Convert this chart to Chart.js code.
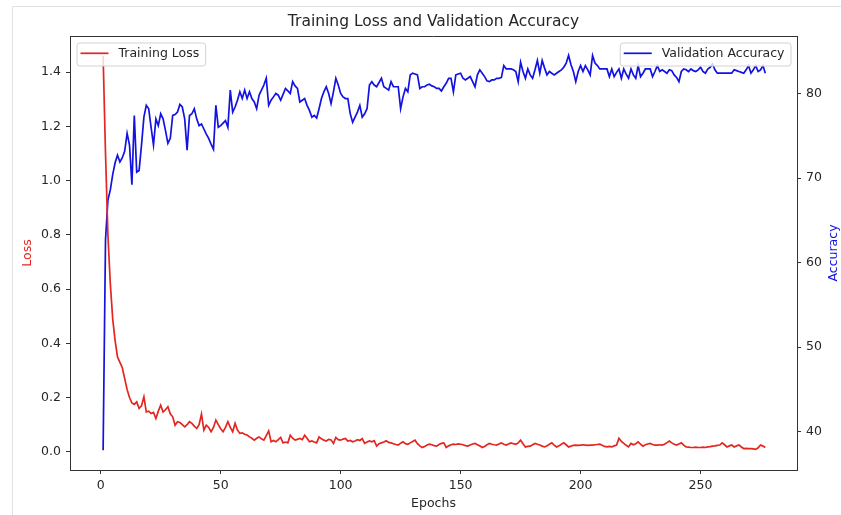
<!DOCTYPE html>
<html>
<head>
<meta charset="utf-8">
<script src="https://cdn.jsdelivr.net/npm/chart.js@4"></script>
<style>
  html, body { margin: 0; padding: 0; background: #fff; }
  #frame { position: absolute; left: 12px; top: 6px; right: 0; bottom: 0;
           border-left: 1px solid #e2e2e2; border-top: 1px solid #e2e2e2; }
  #wrap { position: absolute; left: 0; top: 0; width: 841px; height: 515px; }
</style>
</head>
<body>
<div id="frame"></div>
<div id="wrap"><canvas id="chart"></canvas></div>
<script>
// values, epoch 1..277
var loss = [
  1.46, 1.10, 0.80, 0.62, 0.49, 0.41, 0.35, 0.33, 0.31, 0.27,
  0.23, 0.20, 0.18, 0.175, 0.184, 0.16, 0.17, 0.203, 0.147, 0.15,
  0.141, 0.145, 0.123, 0.15, 0.172, 0.147, 0.155, 0.166, 0.14, 0.129,
  0.098, 0.111, 0.108, 0.10, 0.092, 0.10, 0.111, 0.105, 0.095, 0.086,
  0.10, 0.139, 0.080, 0.098, 0.09, 0.074, 0.09, 0.117, 0.10, 0.085,
  0.074, 0.09, 0.111, 0.09, 0.074, 0.105, 0.08, 0.068, 0.07, 0.065,
  0.062, 0.055, 0.05, 0.043, 0.05, 0.055, 0.048, 0.043, 0.06, 0.077,
  0.037, 0.042, 0.037, 0.045, 0.053, 0.033, 0.036, 0.033, 0.061, 0.05,
  0.043, 0.046, 0.049, 0.045, 0.061, 0.05, 0.037, 0.04, 0.036, 0.033,
  0.055, 0.048, 0.043, 0.04, 0.046, 0.044, 0.031, 0.053, 0.045, 0.043,
  0.047, 0.049, 0.04, 0.042, 0.037, 0.04, 0.045, 0.042, 0.049, 0.031,
  0.036, 0.04, 0.037, 0.041, 0.021, 0.03, 0.033, 0.036, 0.041, 0.035,
  0.033, 0.03, 0.027, 0.025, 0.032, 0.037, 0.03, 0.028, 0.033, 0.038,
  0.043, 0.03, 0.022, 0.016, 0.02, 0.025, 0.028, 0.026, 0.023, 0.021,
  0.027, 0.031, 0.033, 0.016, 0.022, 0.026, 0.028, 0.027, 0.029, 0.028,
  0.026, 0.023, 0.021, 0.025, 0.029, 0.031, 0.026, 0.022, 0.016, 0.02,
  0.026, 0.031, 0.028, 0.026, 0.025, 0.029, 0.033, 0.028, 0.025, 0.029,
  0.033, 0.03, 0.028, 0.033, 0.043, 0.03, 0.018, 0.02, 0.021, 0.026,
  0.031, 0.028, 0.025, 0.021, 0.018, 0.022, 0.028, 0.033, 0.025, 0.018,
  0.022, 0.028, 0.033, 0.026, 0.018, 0.021, 0.024, 0.025, 0.024, 0.025,
  0.026, 0.025, 0.024, 0.025, 0.025, 0.026, 0.027, 0.028, 0.024, 0.02,
  0.018, 0.02, 0.018, 0.022, 0.025, 0.05, 0.038, 0.031, 0.024, 0.018,
  0.031, 0.026, 0.03, 0.037, 0.028, 0.021, 0.026, 0.029, 0.031, 0.027,
  0.025, 0.025, 0.026, 0.025, 0.028, 0.034, 0.040, 0.033, 0.028, 0.025,
  0.029, 0.033, 0.025, 0.018, 0.017, 0.016, 0.016, 0.017, 0.016, 0.016,
  0.017, 0.016, 0.018, 0.019, 0.021, 0.022, 0.024, 0.025, 0.033, 0.026,
  0.018, 0.022, 0.025, 0.018, 0.022, 0.025, 0.018, 0.012, 0.013, 0.012,
  0.012, 0.011, 0.009, 0.015, 0.025, 0.021, 0.016
];
var accuracy = [
  37.8, 62.7, 67.4, 68.6, 70.4, 71.8, 72.7, 71.9, 72.4, 73.2,
  75.3, 73.9, 69.2, 77.4, 70.7, 70.9, 73.9, 77.2, 78.6, 78.2,
  76.0, 73.9, 77.0, 76.2, 77.6, 77.0, 75.6, 74.1, 74.7, 77.4,
  77.5, 77.8, 78.7, 78.4, 77.0, 73.3, 77.4, 77.6, 78.2, 77.0,
  76.2, 76.4, 75.8, 75.2, 74.7, 74.0, 73.4, 78.6, 76.0, 76.2,
  76.5, 76.8, 76.0, 80.4, 77.8, 78.4, 79.2, 80.2, 79.4, 80.4,
  79.4, 80.2, 79.4, 79.0, 78.2, 79.8, 80.4, 81.0, 81.8, 78.6,
  79.2, 79.6, 80.0, 79.8, 79.2, 79.9, 80.6, 80.3, 80.0, 81.4,
  80.9, 80.6, 79.0, 79.2, 79.4, 78.6, 78.0, 77.2, 77.4, 77.1,
  78.2, 79.4, 80.2, 80.8, 80.0, 78.8, 80.2, 81.8, 81.0, 80.0,
  79.6, 79.4, 79.4, 77.6, 76.6, 77.2, 77.8, 78.6, 77.2, 77.6,
  78.2, 81.0, 81.4, 81.0, 80.8, 81.3, 81.8, 80.8, 80.6, 80.4,
  81.4, 80.8, 80.8, 80.8, 78.2, 79.6, 80.6, 80.2, 82.2, 82.4,
  82.3, 82.2, 80.6, 80.8, 80.8, 81.0, 81.1, 80.9, 80.8, 80.6,
  80.6, 80.3, 80.8, 81.2, 81.8, 81.8, 80.2, 82.2, 82.3, 82.4,
  81.8, 81.6, 81.8, 82.0, 81.4, 80.8, 82.2, 82.8, 82.4, 82.0,
  81.5, 81.4, 81.6, 81.6, 81.8, 81.8, 81.9, 83.3, 82.9, 82.9,
  82.9, 82.8, 82.6, 81.4, 83.7, 82.6, 81.8, 82.9, 82.2, 81.8,
  82.8, 83.9, 82.4, 83.9, 83.0, 82.2, 82.6, 82.4, 82.2, 82.4,
  82.6, 82.8, 83.1, 83.6, 84.5, 83.4, 82.6, 81.4, 82.6, 83.3,
  82.6, 83.3, 82.8, 82.2, 84.5, 83.6, 83.3, 82.9, 82.9, 82.9,
  82.9, 82.0, 82.9, 82.0, 82.5, 82.9, 81.8, 82.9, 82.3, 81.8,
  82.9, 82.2, 81.8, 83.3, 82.0, 82.4, 82.9, 82.9, 82.9, 82.0,
  82.6, 83.3, 82.6, 82.8, 82.6, 82.4, 82.8, 82.7, 82.2, 81.9,
  81.4, 82.6, 82.9, 82.8, 82.6, 82.9, 82.7, 82.6, 82.8, 83.1,
  82.6, 82.4, 82.9, 83.1, 83.5, 82.8, 82.4, 82.4, 82.4, 82.4,
  82.4, 82.4, 82.4, 82.8, 82.7, 82.6, 82.5, 82.4, 82.8, 83.3,
  82.4, 82.8, 83.3, 82.6, 82.8, 83.3, 82.4
];
var epochs = loss.map(function (v, i) { return i + 1; });
var xTicks = [0, 50, 100, 150, 200, 250];
var lossTicks = [0, 0.2, 0.4, 0.6, 0.8, 1.0, 1.2, 1.4];
var accTicks = [40, 50, 60, 70, 80];

var chartTitle = 'Training Loss and Validation Accuracy';
var lossColor = 'rgb(228,38,32)';
var accColor = 'rgb(18,18,225)';
var textColor = '#262626';
var font = '"DejaVu Sans", sans-serif';
var fontSize = 12.5;

function fixTicks(list) {
  return function (scale) {
    scale.ticks = list.map(function (v) { return { value: v }; });
  };
}

function legendBox(ctx, x, y, label, color, alignRight) {
  ctx.font = fontSize + 'px ' + font;
  var w = 4 + 28 + 10 + ctx.measureText(label).width + 6;
  var h = 23;
  if (alignRight) x = x - w;
  ctx.beginPath();
  ctx.roundRect(x + 0.5, y + 0.5, w, h, 3);
  ctx.fillStyle = 'rgba(255,255,255,0.8)';
  ctx.fill();
  ctx.strokeStyle = '#d2d2d2';
  ctx.lineWidth = 1;
  ctx.stroke();
  ctx.beginPath();
  ctx.moveTo(x + 4, y + 10.8);
  ctx.lineTo(x + 32, y + 10.8);
  ctx.strokeStyle = color;
  ctx.lineWidth = 1.7;
  ctx.stroke();
  ctx.fillStyle = textColor;
  ctx.textAlign = 'left';
  ctx.textBaseline = 'middle';
  ctx.fillText(label, x + 42, y + 11);
}

var decor = {
  id: 'decor',
  afterDatasetsDraw: function (chart) {
    var ctx = chart.ctx, a = chart.chartArea;
    ctx.save();
    ctx.strokeStyle = '#333';
    ctx.lineWidth = 1;
    ctx.beginPath();
    ctx.moveTo(a.left, a.top + 0.5);
    ctx.lineTo(a.right, a.top + 0.5);
    ctx.stroke();
    ctx.fillStyle = textColor;
    ctx.font = '15.5px ' + font;
    ctx.textAlign = 'center';
    ctx.textBaseline = 'middle';
    ctx.fillText(chartTitle, (a.left + a.right) / 2, 22);
    // right axis title reads bottom to top
    ctx.save();
    ctx.translate(834, (a.top + a.bottom) / 2);
    ctx.rotate(-Math.PI / 2);
    ctx.fillStyle = accColor;
    ctx.font = fontSize + 'px ' + font;
    ctx.fillText('Accuracy', 0, 0);
    ctx.restore();
    legendBox(ctx, a.left + 6.5, a.top + 6.5, 'Training Loss', lossColor, false);
    legendBox(ctx, a.right - 6.5, a.top + 6.5, 'Validation Accuracy', accColor, true);
    ctx.restore();
  }
};

new Chart(document.getElementById('chart'), {
  type: 'line',
  data: {
    datasets: [
      {
        label: 'Training Loss',
        data: epochs.map(function (e, i) { return { x: e, y: loss[i] }; }),
        borderColor: lossColor,
        borderWidth: 1.7,
        pointRadius: 0,
        tension: 0,
        yAxisID: 'y'
      },
      {
        label: 'Validation Accuracy',
        data: epochs.map(function (e, i) { return { x: e, y: accuracy[i] }; }),
        borderColor: accColor,
        borderWidth: 1.7,
        pointRadius: 0,
        tension: 0,
        yAxisID: 'y1'
      }
    ]
  },
  options: {
    responsive: true,
    maintainAspectRatio: false,
    animation: false,
    layout: { padding: { top: 36, left: 0, right: 0, bottom: 0 } },
    plugins: {
      legend: { display: false },
      title: { display: false },
      tooltip: { enabled: false }
    },
    scales: {
      x: {
        type: 'linear',
        min: -12.8,
        max: 290.2,
        afterBuildTicks: fixTicks(xTicks),
        afterFit: function (s) { s.height = 45; },
        grid: { drawOnChartArea: false, drawTicks: true, tickLength: 4, color: '#333' },
        border: { display: true, color: '#333', width: 1 },
        ticks: { color: textColor, font: { family: font, size: fontSize }, padding: 4, maxRotation: 0,
                 callback: function (v) { return String(v); } },
        title: { display: true, text: 'Epochs', color: textColor,
                 font: { family: font, size: fontSize }, padding: { top: 0, bottom: 4 } }
      },
      y: {
        position: 'left',
        min: -0.067,
        max: 1.533,
        afterBuildTicks: fixTicks(lossTicks),
        afterFit: function (s) { s.width = 70; },
        grid: { drawOnChartArea: false, drawTicks: true, tickLength: 4, color: '#333' },
        border: { display: true, color: '#333', width: 1 },
        ticks: { color: textColor, font: { family: font, size: fontSize }, padding: 5,
                 callback: function (v) { return v.toFixed(1); } },
        title: { display: true, text: 'Loss', color: lossColor,
                 font: { family: font, size: fontSize }, padding: { top: 20, bottom: 0 } }
      },
      y1: {
        position: 'right',
        min: 35.47,
        max: 86.8,
        afterBuildTicks: fixTicks(accTicks),
        afterFit: function (s) { s.width = 44; },
        grid: { drawOnChartArea: false, drawTicks: true, tickLength: 4, color: '#333' },
        border: { display: true, color: '#333', width: 1 },
        ticks: { color: textColor, font: { family: font, size: fontSize }, padding: 5,
                 callback: function (v) { return String(v); } },
        title: { display: false }
      }
    }
  },
  plugins: [decor]
});
</script>
</body>
</html>
